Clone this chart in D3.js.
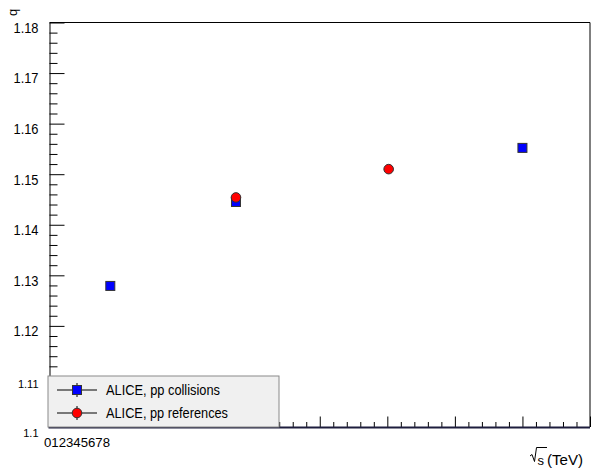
<!DOCTYPE html>
<html>
<head>
<meta charset="utf-8">
<script src="https://cdn.jsdelivr.net/npm/d3@7"></script>
<style>
  body { margin: 0; background: #fff; }
  svg { display: block; }
  .reg { font-family: "Liberation Sans", Arial, sans-serif; }
</style>
</head>
<body>
<div id="chart"></div>
<script>
// ALICE pp collisions (sqrt(s) in TeV, q)
const collisionsEnergy = [0.9, 2.76, 7];
const collisionsQ = [1.1279, 1.1445, 1.1552];
// ALICE pp references
const referencesEnergy = [2.76, 5.02];
const referencesQ = [1.1454, 1.1510];

const yTickValues = [1.1, 1.11, 1.12, 1.13, 1.14, 1.15, 1.16, 1.17, 1.18];
const yTickLabels = ["1.1", "1.11", "1.12", "1.13", "1.14", "1.15", "1.16", "1.17", "1.18"];
const xTickValues = [0, 1, 2, 3, 4, 5, 6, 7, 8];
const xTickLabels = ["0", "1", "2", "3", "4", "5", "6", "7", "8"];
const legendLabels = ["ALICE, pp collisions", "ALICE, pp references"];

const W = 591, H = 469;
const pLeft = 49.5, pRight = 590, pTop = 22.5, pBottom = 427;

const svg = d3.select("#chart").append("svg")
  .attr("width", W).attr("height", H);

const x = d3.scaleLinear().domain([0, 8]).range([pLeft, pRight]);
const y = d3.scaleLinear().domain([1.1, 1.18]).range([pBottom, pTop]);

// frame (top + right)
svg.append("path")
  .attr("d", `M${pLeft},${pTop}H${pRight}V${pBottom}`)
  .attr("fill", "none").attr("stroke", "#000").attr("stroke-width", 1);

// y axis: minor ticks then majors, pointing inward
const yMinor = d3.range(1.1, 1.1801, 0.002).filter(v => !yTickValues.some(t => Math.abs(t - v) < 1e-6));
svg.append("g")
  .attr("transform", `translate(${pLeft},0)`)
  .call(d3.axisRight(y).tickValues(yMinor).tickSize(8).tickFormat(""))
  .call(g => g.select(".domain").remove())
  .selectAll("line").attr("stroke", "#000");

const yAxis = svg.append("g")
  .attr("transform", `translate(${pLeft},0)`)
  .call(d3.axisLeft(y).tickValues(yTickValues).tickSizeInner(-15).tickSizeOuter(0).tickPadding(11)
    .tickFormat((d, i) => yTickLabels[i]));
yAxis.select(".domain").attr("stroke", "#000");
yAxis.selectAll("line").attr("stroke", "#000");
yAxis.selectAll("text")
  .attr("class", "reg")
  .attr("fill", "#000")
  .attr("font-size", 15)
  .attr("dy", "0.66em")
  .attr("textLength", 25)
  .attr("lengthAdjust", "spacingAndGlyphs");
// the two lowest labels come out smaller in the original
yAxis.selectAll("text").filter(d => d < 1.115)
  .attr("font-size", 11)
  .attr("textLength", null)
  .attr("dy", d => d < 1.105 ? "0.9em" : "1.05em");

// x axis ticks pointing up
const xMinor = d3.range(0, 8.001, 0.2).filter(v => Math.abs(v - Math.round(v)) > 1e-6);
svg.append("g")
  .attr("transform", `translate(0,${pBottom})`)
  .call(d3.axisBottom(x).tickValues(xMinor).tickSize(-5).tickFormat(""))
  .call(g => g.select(".domain").remove())
  .selectAll("line").attr("stroke", "#000");
svg.append("g")
  .attr("transform", `translate(0,${pBottom})`)
  .call(d3.axisBottom(x).tickValues(xTickValues).tickSize(-10.5).tickFormat(""))
  .call(g => g.select(".domain").remove())
  .selectAll("line").attr("stroke", "#000");

// x tick labels, all crammed together at the origin as in the original
svg.append("text")
  .attr("class", "reg")
  .attr("x", pLeft - 5.5).attr("y", 447)
  .attr("font-size", 13.5)
  .attr("textLength", 66)
  .attr("lengthAdjust", "spacingAndGlyphs")
  .text(xTickLabels.join(""));

// axis titles
svg.append("text")
  .attr("class", "reg")
  .attr("transform", "translate(17,16) rotate(-90)")
  .attr("font-size", 13)
  .text("q");

const xt = svg.append("g").attr("class", "reg");
xt.append("path")
  .attr("d", "M530,456 L532,454.5 L534.5,461.5 L536.5,447.5 H547")
  .attr("fill", "none").attr("stroke", "#000").attr("stroke-width", 1);
xt.append("text").attr("x", 537.5).attr("y", 465).attr("font-size", 13).text("s");
xt.append("text").attr("x", 547).attr("y", 465).attr("font-size", 14)
  .attr("textLength", 36).attr("lengthAdjust", "spacingAndGlyphs").text("(TeV)");

// x axis line (thick, dark)
svg.append("line")
  .attr("x1", pLeft - 1).attr("x2", pRight).attr("y1", pBottom + 0.5).attr("y2", pBottom + 0.5)
  .attr("stroke", "#1d1d3d").attr("stroke-width", 2);

// data
const collisions = collisionsEnergy.map((e, i) => ({ e, q: collisionsQ[i] }));
const references = referencesEnergy.map((e, i) => ({ e, q: referencesQ[i] }));
const sq = 9;

svg.append("g").selectAll("rect")
  .data(collisions).enter().append("rect")
  .attr("x", d => x(d.e) - sq / 2)
  .attr("y", d => y(d.q) - sq / 2)
  .attr("width", sq).attr("height", sq)
  .attr("fill", "#0000ff").attr("stroke", "#333").attr("stroke-width", 1);

svg.append("g").selectAll("circle")
  .data(references).enter().append("circle")
  .attr("cx", d => x(d.e))
  .attr("cy", d => y(d.q))
  .attr("r", 4.8)
  .attr("fill", "#ff0000").attr("stroke", "#333").attr("stroke-width", 1);

// legend
const lg = svg.append("g");
lg.append("rect")
  .attr("x", 48).attr("y", 376).attr("width", 231).attr("height", 51)
  .attr("fill", "#f0f0f0").attr("stroke", "#8a8a8a").attr("stroke-width", 1);

const legendRows = [
  { label: legendLabels[0], y: 390, kind: "square", len: 114 },
  { label: legendLabels[1], y: 413, kind: "circle", len: 122 }
];
legendRows.forEach(r => {
  lg.append("line").attr("x1", 57).attr("x2", 97).attr("y1", r.y).attr("y2", r.y)
    .attr("stroke", "#000").attr("stroke-width", 1);
  lg.append("line").attr("x1", 77).attr("x2", 77).attr("y1", r.y - 7).attr("y2", r.y + 7)
    .attr("stroke", "#000").attr("stroke-width", 1);
  if (r.kind === "square") {
    lg.append("rect").attr("x", 77 - sq / 2).attr("y", r.y - sq / 2)
      .attr("width", sq).attr("height", sq)
      .attr("fill", "#0000ff").attr("stroke", "#333");
  } else {
    lg.append("circle").attr("cx", 77).attr("cy", r.y).attr("r", 4.8)
      .attr("fill", "#ff0000").attr("stroke", "#333");
  }
  lg.append("text").attr("class", "reg")
    .attr("x", 106).attr("y", r.y + 5)
    .attr("font-size", 14).attr("fill", "#000")
    .attr("textLength", r.len).attr("lengthAdjust", "spacingAndGlyphs")
    .text(r.label);
});
</script>
</body>
</html>
